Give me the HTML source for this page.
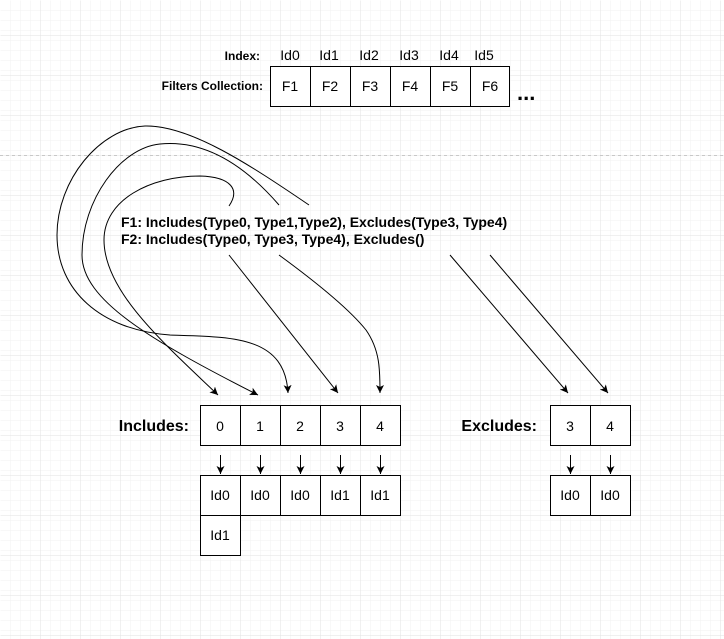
<!DOCTYPE html>
<html><head><meta charset="utf-8"><style>
html,body{margin:0;padding:0;background:#fff;}
svg{display:block;font-family:"Liberation Sans",Arial,sans-serif;}
</style></head><body>
<svg width="724" height="639" viewBox="0 0 724 639" xmlns="http://www.w3.org/2000/svg">
<defs>
<pattern id="minor" width="10" height="10" patternUnits="userSpaceOnUse" x="0" y="5">
<path d="M10 0 V10 M0 10 H10" fill="none" stroke="#f2f2f2" stroke-width="1"/>
</pattern>
<pattern id="major" width="40" height="40" patternUnits="userSpaceOnUse" x="0" y="35">
<rect width="40" height="40" fill="url(#minor)"/>
<path d="M40 0 V40 M0 40 H40" fill="none" stroke="#e2e2e2" stroke-width="1"/>
</pattern>
<marker id="ar" markerWidth="10" markerHeight="10" refX="8" refY="5" orient="auto" markerUnits="userSpaceOnUse">
<path d="M0,1 L8,5 L0,9 L2,5 Z" fill="#000"/>
</marker>
</defs>
<rect width="724" height="639" fill="url(#major)" transform="translate(0.5,0.5)"/>
<line x1="0" y1="155.5" x2="724" y2="155.5" stroke="#c8c8c8" stroke-dasharray="3,3"/>

<g font-size="12" font-weight="bold" text-anchor="end">
<text x="260" y="60">Index:</text>
<text x="263" y="90">Filters Collection:</text>
</g>
<g font-size="14" text-anchor="middle">
<text x="290" y="60">Id0</text><text x="329" y="60">Id1</text><text x="369" y="60">Id2</text>
<text x="409" y="60">Id3</text><text x="449" y="60">Id4</text><text x="484" y="60">Id5</text>
</g>
<g fill="#fff" stroke="#000">
<rect x="270.5" y="66.5" width="40" height="40"/><rect x="310.5" y="66.5" width="40" height="40"/>
<rect x="350.5" y="66.5" width="40" height="40"/><rect x="390.5" y="66.5" width="40" height="40"/>
<rect x="430.5" y="66.5" width="40" height="40"/><rect x="470.5" y="66.5" width="39" height="40"/>
</g>
<g font-size="14" text-anchor="middle">
<text x="290" y="91">F1</text><text x="330" y="91">F2</text><text x="370" y="91">F3</text>
<text x="410" y="91">F4</text><text x="450" y="91">F5</text><text x="490" y="91">F6</text>
</g>
<text x="517" y="100" font-size="22" font-weight="bold">...</text>

<g font-size="14" font-weight="bold">
<text x="121" y="227">F1: Includes(Type0, Type1,Type2), Excludes(Type3, Type4)</text>
<text x="121" y="244">F2: Includes(Type0, Type3, Type4), Excludes()</text>
</g>

<g fill="none" stroke="#000" stroke-width="1" marker-end="url(#ar)">
<path d="M309,205 C250,165 190,125 145,126 C100,128 57,180 57,235 C57,290 100,330 170,335 C230,337 285,335 288,393"/>
<path d="M279,205 C240,160 200,140 160,144 C120,148 82,200 82,255 C82,300 150,340 258,395"/>
<path d="M229,206 C240,190 232,177 200,176 C150,176 104,200 104,240 C104,290 160,340 218,395"/>
<path d="M229,255 L338,393"/>
<path d="M279,255 C320,285 350,310 366,330 C380,350 380,370 380,393"/>
<path d="M450,255 L568,393"/>
<path d="M490,255 L608,393"/>
</g>

<text x="189" y="431" font-size="16" font-weight="bold" text-anchor="end">Includes:</text>
<text x="537" y="431" font-size="16" font-weight="bold" text-anchor="end">Excludes:</text>
<g fill="#fff" stroke="#000">
<rect x="200.5" y="405.5" width="40" height="40"/><rect x="240.5" y="405.5" width="40" height="40"/>
<rect x="280.5" y="405.5" width="40" height="40"/><rect x="320.5" y="405.5" width="40" height="40"/>
<rect x="360.5" y="405.5" width="40" height="40"/>
<rect x="200.5" y="475.5" width="40" height="40"/><rect x="240.5" y="475.5" width="40" height="40"/>
<rect x="280.5" y="475.5" width="40" height="40"/><rect x="320.5" y="475.5" width="40" height="40"/>
<rect x="360.5" y="475.5" width="40" height="40"/>
<rect x="200.5" y="515.5" width="40" height="40"/>
<rect x="550.5" y="405.5" width="40" height="40"/><rect x="590.5" y="405.5" width="40" height="40"/>
<rect x="550.5" y="475.5" width="40" height="40"/><rect x="590.5" y="475.5" width="40" height="40"/>
</g>
<g font-size="14" text-anchor="middle">
<text x="220" y="431">0</text><text x="260" y="431">1</text><text x="300" y="431">2</text>
<text x="340" y="431">3</text><text x="380" y="431">4</text>
<text x="570" y="431">3</text><text x="610" y="431">4</text>
<text x="220" y="500">Id0</text><text x="260" y="500">Id0</text><text x="300" y="500">Id0</text>
<text x="340" y="500">Id1</text><text x="380" y="500">Id1</text>
<text x="220" y="540">Id1</text>
<text x="570" y="500">Id0</text><text x="610" y="500">Id0</text>
</g>
<g stroke="#000" marker-end="url(#ar)">
<line x1="220.5" y1="455" x2="220.5" y2="474"/><line x1="260.5" y1="455" x2="260.5" y2="474"/>
<line x1="300.5" y1="455" x2="300.5" y2="474"/><line x1="340.5" y1="455" x2="340.5" y2="474"/>
<line x1="380.5" y1="455" x2="380.5" y2="474"/>
<line x1="570.5" y1="455" x2="570.5" y2="474"/><line x1="610.5" y1="455" x2="610.5" y2="474"/>
</g>
</svg>
</body></html>
